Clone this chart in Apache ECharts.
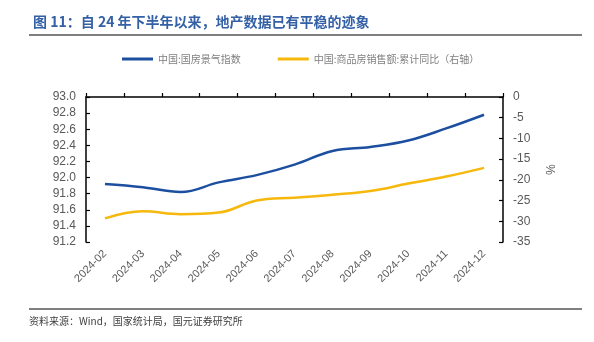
<!DOCTYPE html>
<html>
<head>
<meta charset="utf-8">
<script src="https://cdn.jsdelivr.net/npm/echarts@6/dist/echarts.min.js"></script>
<style>
  html, body { margin: 0; padding: 0; background: #fff; }
  #chart { width: 594px; height: 342px; }
</style>
</head>
<body>
<div id="chart"></div>
<script>
// Monthly categories
const months = ['2024-02', '2024-03', '2024-04', '2024-05', '2024-06', '2024-07',
                '2024-08', '2024-09', '2024-10', '2024-11', '2024-12'];
// 中国:国房景气指数 (left axis)
const climateIndex = [91.92, 91.88, 91.82, 91.94, 92.03, 92.16, 92.33, 92.38, 92.46, 92.61, 92.78];
// 中国:商品房销售额:累计同比 (right axis, %)
const salesYoY = [-29.3, -27.6, -28.3, -27.9, -25.0, -24.3, -23.6, -22.7, -20.9, -19.2, -17.1];

const seriesNames = ['中国:国房景气指数', '中国:商品房销售额:累计同比（右轴）'];
const titleText = '图 11：自 24 年下半年以来，地产数据已有平稳的迹象';
const sourceText = '资料来源：Wind，国家统计局，国元证券研究所';

const BLUE = '#1c4f9f';
const GOLD = '#f6b80c';
const LABEL = '#595959';
const CJK = '"Noto Sans CJK SC", "Liberation Sans", sans-serif';
const LATIN = '"Liberation Sans", Arial, sans-serif';

const chart = echarts.init(document.getElementById('chart'), null, { renderer: 'canvas' });

const axisLine = { show: true, lineStyle: { color: '#000', width: 1.5 } };
const axisTick = { show: true, inside: true, length: 4, lineStyle: { color: '#000', width: 1.2 } };

chart.setOption({
  animation: false,
  backgroundColor: '#fff',
  graphic: [
    {
      type: 'text', left: 33, top: 15,
      style: { text: titleText, fill: '#3460a6', font: 'bold 14px ' + CJK }
    },
    {
      type: 'line', shape: { x1: 29, y1: 35, x2: 582, y2: 35 },
      style: { stroke: '#7f7f7f', lineWidth: 2 }
    },
    {
      type: 'line', shape: { x1: 29, y1: 309, x2: 582, y2: 309 },
      style: { stroke: '#7f7f7f', lineWidth: 2 }
    },
    {
      type: 'text', left: 29, top: 316,
      style: { text: sourceText, fill: '#404040', font: '10px ' + CJK }
    }
  ],
  legend: {
    top: 49,
    left: 117,
    itemWidth: 31,
    itemHeight: 3,
    itemGap: 37,
    icon: 'rect',
    textStyle: { color: '#7f7f7f', fontSize: 10, fontFamily: CJK },
    data: seriesNames
  },
  grid: { left: 86, right: 91, top: 97, bottom: 100, containLabel: false },
  xAxis: {
    type: 'category',
    data: months,
    boundaryGap: true,
    axisLine: axisLine,
    axisTick: { show: true, inside: true, length: 4, lineStyle: { color: '#000', width: 1.2 } },
    axisLabel: {
      color: LABEL, fontSize: 11, fontFamily: LATIN, rotate: 45, margin: 10, interval: 0
    },
    splitLine: { show: false }
  },
  yAxis: [
    {
      type: 'value',
      min: 91.2, max: 93.0, interval: 0.2,
      axisLine: axisLine,
      axisTick: axisTick,
      axisLabel: {
        color: LABEL, fontSize: 12, fontFamily: LATIN, margin: 10,
        formatter: v => v.toFixed(1)
      },
      splitLine: { show: false }
    },
    {
      type: 'value',
      min: -35, max: 0, interval: 5,
      position: 'right',
      axisLine: axisLine,
      axisTick: axisTick,
      axisLabel: { color: LABEL, fontSize: 12, fontFamily: LATIN, margin: 10 },
      splitLine: { show: false },
      name: '%',
      nameLocation: 'middle',
      nameGap: 40,
      nameRotate: -90,
      nameTextStyle: { color: LABEL, fontSize: 12, fontFamily: LATIN }
    }
  ],
  series: [
    {
      name: seriesNames[0],
      type: 'line',
      yAxisIndex: 0,
      data: climateIndex,
      smooth: 0.4,
      showSymbol: false,
      lineStyle: { color: BLUE, width: 2.5 },
      itemStyle: { color: BLUE }
    },
    {
      name: seriesNames[1],
      type: 'line',
      yAxisIndex: 1,
      data: salesYoY,
      smooth: 0.4,
      showSymbol: false,
      lineStyle: { color: GOLD, width: 2.5 },
      itemStyle: { color: GOLD }
    }
  ]
});
</script>
</body>
</html>
